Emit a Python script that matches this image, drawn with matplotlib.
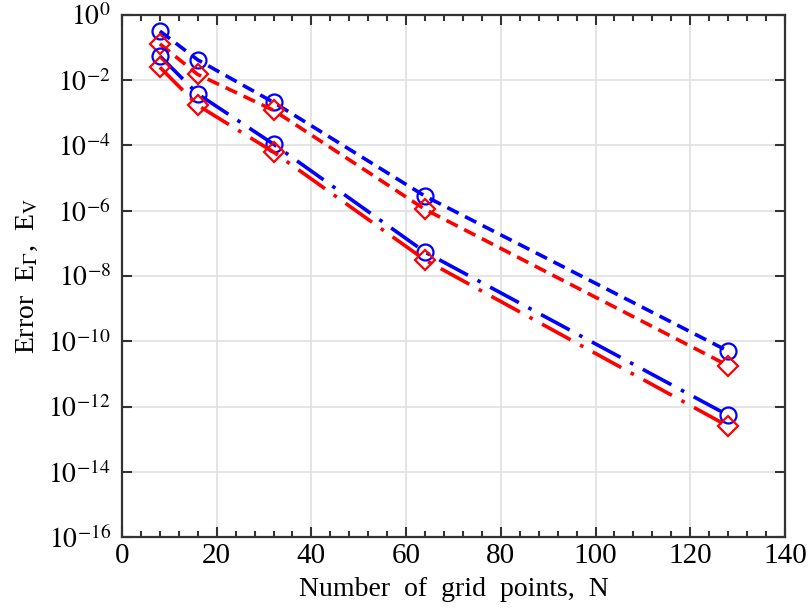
import numpy as np
import matplotlib.pyplot as plt
from matplotlib.ticker import FixedLocator, MultipleLocator, NullLocator

plt.rcParams['font.family'] = ['Liberation Serif', 'DejaVu Serif']
plt.rcParams['mathtext.fontset'] = 'stix'

# grid sizes and error values
N = [8, 16, 32, 64, 128]
err_gamma_dash = [0.32, 0.042, 2.1e-3, 2.8e-6, 5.0e-11]
err_v_dash = [0.13, 0.015, 1.2e-3, 1.1e-6, 1.8e-11]
err_gamma_dashdot = [0.055, 3.8e-3, 1.1e-4, 5.4e-8, 5.4e-13]
err_v_dashdot = [0.025, 1.7e-3, 6.3e-5, 3.1e-8, 2.5e-13]
y_exponents = list(range(-16, 1, 2))

fig = plt.figure(figsize=(8.08, 6.11), dpi=100)
ax = fig.add_axes([0.151, 0.121, 0.8205, 0.8545])

lw = 2.6
ms = 11.5
ax.semilogy(N, err_gamma_dash, color='blue', ls=(0, (3.5, 2)), lw=lw,
            marker='o', ms=ms, mfc='none', mec='blue', mew=1.6)
ax.semilogy(N, err_v_dash, color='red', ls=(0, (3.5, 2)), lw=lw,
            marker='D', ms=ms - 1, mfc='none', mec='red', mew=1.6)
ax.semilogy(N, err_gamma_dashdot, color='blue', ls=(0, (9, 3, 1, 3)), lw=lw,
            marker='o', ms=ms, mfc='none', mec='blue', mew=1.6)
ax.semilogy(N, err_v_dashdot, color='red', ls=(0, (9, 3, 1, 3)), lw=lw,
            marker='D', ms=ms - 1, mfc='none', mec='red', mew=1.6)

ax.set_xlim(0, 140)
ax.set_ylim(1e-16, 1e0)
ax.xaxis.set_major_locator(MultipleLocator(20))
ax.xaxis.set_minor_locator(MultipleLocator(4))
ax.yaxis.set_major_locator(FixedLocator([10.0 ** e for e in y_exponents]))
ax.yaxis.set_minor_locator(NullLocator())
ax.set_yticklabels([r'$10^{%d}$' % e for e in y_exponents])

ax.grid(True, which='major', color='#e0e0e0', lw=1.2)
ax.set_axisbelow(True)
ax.tick_params(which='both', direction='in', top=True, right=True,
               width=1.5, color='#333333')
ax.tick_params(axis='x', labelsize=21, pad=4)
ax.tick_params(axis='y', labelsize=20, pad=8)
ax.tick_params(which='major', length=7)
ax.tick_params(which='minor', length=4)
for s in ax.spines.values():
    s.set_linewidth(1.6)
    s.set_color('#333333')

ax.set_xlabel('Number  of  grid  points,  N', fontsize=20, labelpad=6)
ax.set_ylabel(r'Error  E$_\Gamma$,  E$_\mathrm{V}$', fontsize=20, labelpad=6)

fig.savefig('out.png', dpi=100)
